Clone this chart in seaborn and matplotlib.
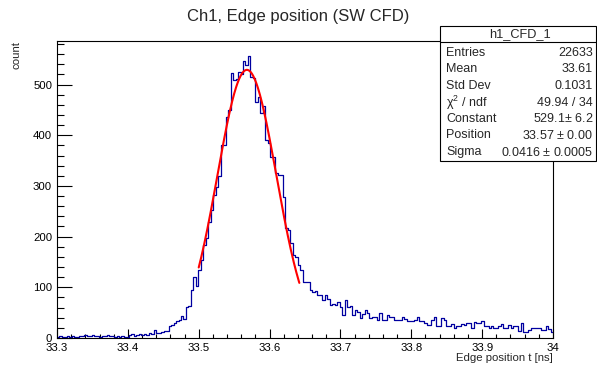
import numpy as np
import pandas as pd
import matplotlib
matplotlib.use("Agg")
import matplotlib.pyplot as plt
import seaborn as sns
from matplotlib.patches import Rectangle
from matplotlib.lines import Line2D
from matplotlib.ticker import MultipleLocator

# histogram h1_CFD_1: 200 bins from 33.3 to 34.0 ns
t_min, t_max, n_bins = 33.3, 34.0, 200
counts = [2, 3, 2, 1, 3, 2, 3, 2, 1, 4, 3, 5, 4, 3, 5, 4, 3, 2, 4, 3,
          5, 4, 3, 2, 3, 2, 3, 1, 2, 5, 7, 4, 6, 8, 5, 7, 6, 9, 7, 16,
          10, 10, 11, 13, 13, 24, 26, 29, 33, 36, 43, 38, 62, 63, 95, 120, 102, 134, 154, 183,
          197, 229, 252, 282, 298, 320, 381, 381, 437, 450, 523, 510, 512, 525, 520, 546, 538, 557, 515, 513,
          466, 476, 443, 457, 390, 385, 358, 358, 325, 322, 322, 279, 217, 213, 188, 164, 160, 144, 134, 111,
          111, 111, 95, 91, 93, 85, 85, 75, 85, 77, 65, 68, 65, 72, 62, 45, 74, 62, 63, 45,
          55, 52, 40, 48, 55, 49, 40, 42, 42, 36, 49, 36, 36, 45, 42, 42, 36, 36, 36, 42,
          37, 33, 33, 33, 36, 41, 33, 33, 30, 25, 25, 36, 42, 24, 24, 40, 36, 24, 24, 27,
          20, 24, 24, 27, 25, 30, 30, 20, 31, 29, 29, 33, 24, 24, 19, 24, 19, 19, 24, 27,
          20, 20, 25, 20, 24, 24, 14, 29, 11, 11, 16, 19, 19, 19, 19, 16, 16, 24, 18, 11]

# gaussian fit result
fit_const, fit_pos, fit_sigma = 529.1, 33.568, 0.0416
fit_lo, fit_hi = 33.50, 33.642

stat_labels = ["Entries", "Mean", "Std Dev", "χ$^{2}$ / ndf", "Constant", "Position", "Sigma"]
stat_values = ["22633", "33.61", "0.1031", "49.94 / 34", "529.1$\\pm$ 6.2",
               "33.57 $\\pm$ 0.00", "0.0416 $\\pm$ 0.0005"]

sns.set_style("white")
plt.rcParams["font.family"] = ["Liberation Sans", "DejaVu Sans"]
plt.rcParams["mathtext.default"] = "regular"

W, H = 597, 365
fig = plt.figure(figsize=(W / 100, H / 100), dpi=100)
ax = fig.add_axes([57 / W, 1 - 338 / H, (553 - 57) / W, (338 - 41) / H])

bw = (t_max - t_min) / n_bins
hist_df = pd.DataFrame({"t": t_min + bw * (np.arange(n_bins) + 0.5), "n": counts})
sns.histplot(data=hist_df, x="t", weights="n", bins=n_bins, binrange=(t_min, t_max),
             element="step", fill=False, color="#0000a0", linewidth=0.9, ax=ax)

tf = np.linspace(fit_lo, fit_hi, 200)
yf = fit_const * np.exp(-0.5 * ((tf - fit_pos) / fit_sigma) ** 2)
sns.lineplot(x=tf, y=yf, color="#ff0000", linewidth=1.5, ax=ax)

ax.set_xlim(t_min, t_max)
ax.set_ylim(0, 586)
ax.set_xlabel("")
ax.set_ylabel("")

ax.xaxis.set_minor_locator(MultipleLocator(0.02))
ax.yaxis.set_major_locator(MultipleLocator(100))
ax.yaxis.set_minor_locator(MultipleLocator(20))
xt = np.round(np.arange(33.3, 34.01, 0.1), 1)
ax.set_xticks(xt)
ax.set_xticklabels(["%g" % v for v in xt])

ax.tick_params(axis="both", which="both", direction="in", labelsize=8.2, width=0.8,
               bottom=True, left=True, top=False, right=False, colors="black")
ax.tick_params(axis="x", which="major", length=6.3, pad=3.5)
ax.tick_params(axis="x", which="minor", length=3.2)
ax.tick_params(axis="y", which="major", length=10.5, pad=3.5)
ax.tick_params(axis="y", which="minor", length=5)
for s in ax.spines.values():
    s.set_linewidth(0.8)
    s.set_color("black")

fig.text(0.5, 1 - 17 / H, "Ch1, Edge position (SW CFD)", ha="center", va="center", fontsize=12)
fig.text(16 / W, 1 - 41 / H, "count", rotation=90, ha="center", va="top", fontsize=8.2)
fig.text(553 / W, 1 - 358 / H, "Edge position t [ns]", ha="right", va="center", fontsize=8.2)

# stats box
bx0, bx1, by0, by1 = 440, 596, 26, 161
fig.patches.append(Rectangle((bx0 / W, 1 - by1 / H), (bx1 - bx0) / W, (by1 - by0) / H,
                             transform=fig.transFigure, facecolor="white",
                             edgecolor="black", linewidth=0.8, zorder=5))
fig.lines.append(Line2D([bx0 / W, bx1 / W], [1 - 41.5 / H, 1 - 41.5 / H],
                        transform=fig.transFigure, color="black", linewidth=0.8, zorder=6))
fig.text(520 / W, 1 - 34 / H, "h1_CFD_1", ha="center", va="center", fontsize=9.2, zorder=7)
row_y = [53, 69.5, 86, 102.5, 119, 135.5, 152]
for lab, val, yy in zip(stat_labels, stat_values, row_y):
    fig.text(446 / W, 1 - yy / H, lab, ha="left", va="center", fontsize=9, zorder=7)
    fig.text(593 / W, 1 - yy / H, val, ha="right", va="center", fontsize=9, zorder=7)

fig.savefig("out.png", dpi=100)
